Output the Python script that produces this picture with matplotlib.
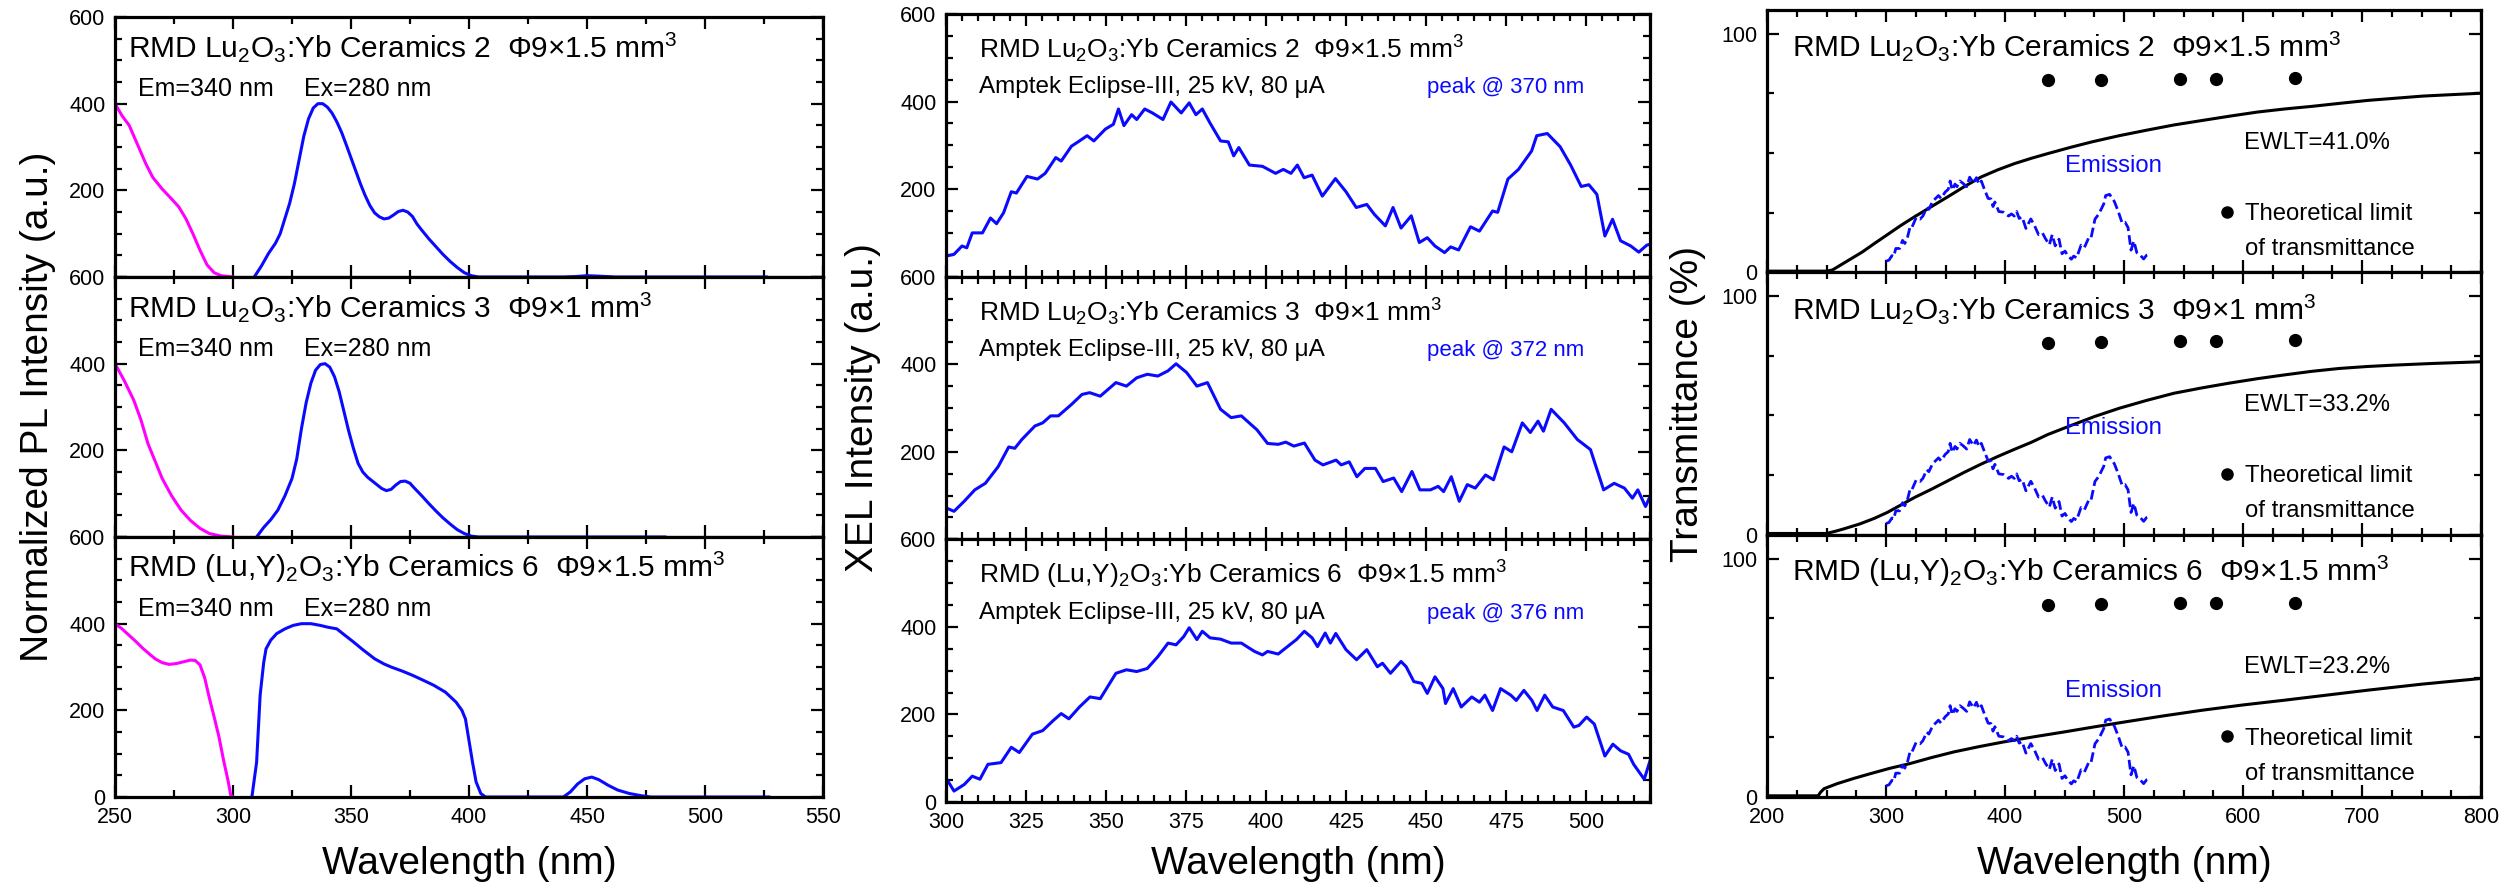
import numpy as np
import matplotlib
matplotlib.use("Agg")
import matplotlib.pyplot as plt
from matplotlib.ticker import MultipleLocator

plt.rcParams['font.family'] = ['Liberation Sans', 'DejaVu Sans']
plt.rcParams['mathtext.fontset'] = 'custom'
plt.rcParams['mathtext.rm'] = 'Liberation Sans'
plt.rcParams['mathtext.default'] = 'regular'

# ---------------- sample titles ----------------
titles = [
    "RMD Lu$_2$O$_3$:Yb Ceramics 2  Φ9×1.5 mm$^3$",
    "RMD Lu$_2$O$_3$:Yb Ceramics 3  Φ9×1 mm$^3$",
    "RMD (Lu,Y)$_2$O$_3$:Yb Ceramics 6  Φ9×1.5 mm$^3$",
]
xel_peaks = ["peak @ 370 nm", "peak @ 372 nm", "peak @ 376 nm"]
ewlt_labels = ["EWLT=41.0%", "EWLT=33.2%", "EWLT=23.2%"]

# ---------------- photoluminescence (excitation: Em=340 nm, emission: Ex=280 nm) ----------------
pl_exc_wl_c2 = [250, 253, 256, 260, 263, 266, 270, 274, 277, 280, 283, 286, 289, 292, 295, 300]
pl_exc_c2 = [400, 372, 350, 300, 262, 230, 203, 180, 162, 135, 100, 62, 28, 10, 3, 0]
pl_em_wl_c2 = [309, 312, 315, 318, 320, 322, 324, 326, 328, 330, 332, 334, 336, 338, 340, 342, 344,
               346, 348, 350, 352, 354, 356, 358, 360, 362, 364, 366, 368, 370, 372, 374, 376, 378,
               380, 383, 386, 389, 392, 395, 398, 401, 404, 440, 445, 450, 455, 462, 526]
pl_em_c2 = [0, 25, 54, 78, 100, 135, 170, 215, 270, 325, 365, 390, 400, 400, 392, 378, 358,
            334, 305, 275, 245, 215, 188, 165, 148, 139, 134, 136, 143, 151, 154, 150, 140, 122,
            108, 88, 70, 52, 36, 22, 10, 3, 0, 0, 1, 3, 2, 0, 0]

pl_exc_wl_c3 = [250, 254, 258, 261, 264, 267, 270, 274, 278, 282, 286, 290, 295, 300]
pl_exc_c3 = [400, 360, 315, 270, 215, 175, 135, 95, 62, 38, 20, 8, 2, 0]
pl_em_wl_c3 = [310, 313, 316, 319, 322, 325, 327, 329, 331, 333, 335, 337, 339, 341, 343, 345, 347,
               349, 351, 353, 355, 357, 360, 363, 365, 367, 369, 371, 373, 375, 377, 380, 383, 386,
               389, 392, 395, 398, 401, 404, 483]
pl_em_c3 = [0, 22, 40, 62, 95, 135, 180, 250, 310, 355, 385, 398, 400, 392, 370, 335, 290,
            245, 205, 170, 150, 138, 125, 112, 107, 110, 120, 128, 129, 124, 112, 95, 77, 60,
            44, 30, 17, 8, 2, 0, 0]

pl_exc_wl_c6 = [250, 253, 256, 259, 262, 265, 267, 270, 273, 276, 279, 282, 284, 286, 288, 290,
                292, 294, 296, 298, 299, 300]
pl_exc_c6 = [400, 388, 373, 358, 342, 328, 319, 310, 306, 308, 312, 316, 315, 305, 275, 228,
             185, 140, 85, 35, 5, 0]
pl_em_wl_c6 = [308, 310, 311.5, 313, 314, 316, 318.5, 322, 325.5, 329, 333, 337, 340, 344, 347,
               351, 355, 360, 364, 367, 372, 376, 380, 385, 390, 394.5, 397, 398.5, 400, 401.5,
               403, 405, 407, 440, 443, 446, 449, 452, 455, 459, 463, 468, 473, 477, 527]
pl_em_c6 = [0, 80, 235, 310, 342, 362, 377, 388, 396, 400, 400, 396, 392, 388, 375,
            358, 340, 319, 307, 300, 290, 281, 271, 258, 242, 219, 200, 180, 130, 80,
            35, 8, 0, 0, 12, 30, 42, 46, 40, 27, 16, 8, 3, 0, 0]

# ---------------- X-ray excited luminescence ----------------
xel_wl_c2 = [300, 302.5, 305, 306.5, 308.2, 311.4, 313.9, 315.8, 318, 320.4, 322, 325.3, 328.6, 331,
             334.3, 336, 339.2, 341.7, 344.1, 346.2, 349.8, 352.3, 353.9, 355.6, 358, 359.6, 362.1,
             364.5, 367.8, 370.3, 373.5, 376, 378.1, 380.1, 382.5, 385.8, 388.2, 389.9, 391.5,
             394.8, 398.9, 403, 405.4, 407.8, 409.8, 411.9, 414.4, 417.6, 421.7, 425, 428.2, 431.5,
             433.9, 437.3, 439.7, 442.2, 445.4, 447.9, 450.4, 452.8, 455.8, 457.7, 460.2, 463.9,
             466.7, 470.8, 472.4, 475.6, 478.9, 483, 484.6, 487.9, 491.9, 495.2, 498.5, 500.9,
             503.4, 505.9, 508.3, 510.8, 514, 516.5, 519, 520]
xel_c2 = [47, 51, 70, 66, 100, 100, 134, 121, 146, 194, 191, 229, 223, 236,
          272, 264, 298, 310, 322, 310, 337, 348, 383, 345, 370, 359, 383,
          374, 359, 399, 374, 397, 370, 383, 351, 310, 308, 276, 295,
          255, 252, 236, 245, 236, 255, 226, 232, 184, 224, 194, 158, 165,
          142, 116, 158, 111, 139, 78, 89, 70, 55, 68, 61, 114,
          104, 150, 147, 223, 245, 287, 322, 327, 297, 255, 206, 210,
          188, 93, 131, 82, 70, 56, 72, 74]

xel_wl_c3 = [300, 302.5, 305.7, 309, 312.3, 316.3, 319.6, 321.5, 323.7, 327.8, 330.2, 332.7, 335.1,
             339.2, 342.5, 344.9, 348.2, 353.1, 356.4, 359.6, 362.9, 366.2, 369.4, 371.9, 375.2,
             378.4, 381.7, 385.8, 389.1, 392.3, 397.2, 400.5, 403.8, 406.2, 408.7, 412, 415.3,
             417.8, 421.9, 423.5, 426, 428.4, 430.9, 434.2, 436.6, 439.9, 442.4, 445.6, 448.1,
             451.4, 453.8, 455.5, 457.9, 460.4, 462.9, 465.4, 468.6, 471.1, 474.4, 476.8, 480.1,
             482.6, 485, 486.7, 489.1, 493.2, 497.3, 501.4, 505.5, 508.8, 512, 514.5, 516.2,
             518.6, 520]
xel_c3 = [72, 64, 87, 113, 128, 166, 211, 208, 228, 259, 266, 282, 282,
          308, 331, 335, 327, 358, 350, 369, 377, 373, 385, 401, 381,
          350, 358, 297, 278, 282, 250, 219, 217, 222, 213, 220, 181,
          170, 181, 170, 177, 143, 162, 162, 132, 140, 109, 155, 113,
          113, 121, 109, 143, 87, 125, 117, 147, 136, 211, 200, 266,
          244, 270, 247, 297, 266, 228, 205, 113, 128, 117, 94, 113,
          75, 98]

xel_wl_c6 = [300, 302.5, 305.7, 308.2, 310.6, 313.1, 317.2, 320.4, 322.9, 327, 330.2, 333.5, 336,
             338.4, 341.7, 345, 348.2, 353.1, 356.4, 359.6, 362.9, 366.2, 369.4, 371.9, 374.3, 376,
             378.4, 380.1, 382.5, 385.8, 389.1, 392.3, 396.4, 398.9, 400.5, 403.8, 406.2, 409.5,
             412, 414.4, 416.1, 418.5, 420.1, 421.8, 425, 428.3, 431.5, 434.8, 436.4, 438.9,
             442.2, 443.8, 446.2, 448.7, 450.4, 452.8, 455.3, 456.1, 458.5, 461, 464.3, 466.7,
             468.4, 470.8, 473.3, 476.5, 478.2, 480.6, 483.1, 484.7, 487.1, 489.6, 492.9, 496.2,
             497.8, 500.2, 502.6, 505.9, 508.4, 510.8, 513.3, 514.9, 518.2, 520]
xel_c6 = [55, 25, 40, 59, 52, 86, 90, 125, 113, 155, 163, 186, 202,
          190, 217, 240, 236, 294, 302, 298, 305, 332, 363, 359, 378, 398,
          371, 390, 375, 372, 363, 363, 344, 336, 344, 338, 352, 371,
          390, 375, 355, 386, 363, 385, 348, 325, 348, 309, 317, 294,
          321, 309, 275, 271, 248, 286, 259, 225, 259, 217, 240, 228,
          244, 209, 259, 244, 232, 255, 232, 209, 244, 217, 209, 171,
          175, 194, 178, 105, 132, 117, 109, 86, 52, 94]

# ---------------- transmittance ----------------
tr_wl_c2 = [200, 250, 255, 260, 270, 280, 290, 300, 312, 324, 338, 352, 366, 380, 394, 408, 422,
            436, 455, 473, 496, 519, 542, 566, 589, 612, 635, 658, 682, 705, 728, 751, 775, 800]
tr_c2 = [0.5, 0.5, 1.0, 2.5, 5.5, 8.5, 12, 15.4, 19.5, 23.3, 27.5, 31.7, 36, 40, 43, 45.6, 47.8,
         49.8, 52.4, 54.7, 57.3, 59.6, 61.8, 63.7, 65.5, 67.2, 68.5, 69.6, 70.9, 72.1, 73, 73.9,
         74.5, 75.1]
tr_wl_c3 = [200, 250, 258, 265, 278, 290, 301, 312, 324, 338, 352, 366, 380, 394, 408, 422, 436,
            454, 475, 496, 519, 542, 565, 588, 612, 635, 658, 681, 704, 727, 760, 800]
tr_c3 = [0.5, 0.5, 1.5, 2.5, 4.5, 6.8, 9.3, 12.3, 15.6, 19, 22.6, 26.2, 29.6, 32.8, 35.8, 38.7,
         42, 45.5, 49.5, 53, 56.3, 59.3, 61.5, 63.5, 65.4, 67, 68.5, 69.7, 70.5, 71.1, 71.8, 72.5]
tr_wl_c6 = [200, 243, 245, 248, 259, 273, 287, 303, 320, 338, 357, 378, 399, 425, 450, 475, 501,
            533, 566, 600, 635, 670, 705, 750, 800]
tr_c6 = [0.5, 0.5, 2.0, 3.5, 5.6, 7.8, 9.8, 12, 14, 16.5, 18.9, 21.1, 23.1, 25.3, 27.3, 29.4,
         31.5, 34, 36.4, 38.6, 40.6, 42.7, 44.8, 47.3, 49.7]

# theoretical limit of transmittance
limit_wl = [436, 481, 547, 577, 644]
limit_T = [80.5, 80.8, 81.2, 81.2, 81.5]

# XEL spectrum of Ceramics 2 shown as the emission overlay (scaled to % axis)
EMISSION_SCALE = 0.1

BLUE = '#0a0aff'
MAGENTA = '#ff00ff'

W, H = 2514, 886
fig = plt.figure(figsize=(W / 100, H / 100), dpi=100)


def column_axes(x0, x1, top, bottom):
    h = (bottom - top) / 3.0
    axes = []
    for i in range(3):
        y_top = top + i * h
        axes.append(fig.add_axes([x0 / W, 1 - (y_top + h) / H, (x1 - x0) / W, h / H]))
    return axes


def frame(ax):
    for s in ax.spines.values():
        s.set_linewidth(2.3)
    ax.tick_params(which='both', direction='in', top=True, right=True, width=1.6,
                   labelsize=15.5, pad=7)
    ax.tick_params(which='major', length=8.5)
    ax.tick_params(which='minor', length=4.8)


LS = 28     # axis label size

# ---------------- left column: PL ----------------
pl_axes = column_axes(115, 823, 17, 797)
pl_sets = [(pl_exc_wl_c2, pl_exc_c2, pl_em_wl_c2, pl_em_c2),
           (pl_exc_wl_c3, pl_exc_c3, pl_em_wl_c3, pl_em_c3),
           (pl_exc_wl_c6, pl_exc_c6, pl_em_wl_c6, pl_em_c6)]
for i, (ax, (xw, xv, ew, ev)) in enumerate(zip(pl_axes, pl_sets)):
    ax.plot(xw, xv, color=MAGENTA, lw=2.2)
    ax.plot(ew, ev, color=BLUE, lw=2.2)
    ax.set_xlim(250, 550)
    ax.set_ylim(0, 600)
    ax.xaxis.set_major_locator(MultipleLocator(50))
    ax.xaxis.set_minor_locator(MultipleLocator(25))
    ax.set_yticks([0, 200, 400, 600])
    ax.yaxis.set_minor_locator(MultipleLocator(50))
    if i < 2:
        ax.set_yticklabels(['', '200', '400', '600'])
        ax.tick_params(labelbottom=False)
    frame(ax)
    ax.text(255.3, 508, titles[i], fontsize=21.5, va='baseline', ha='left')
    ax.text(259.9, 418, "Em=340 nm", fontsize=18, va='baseline', ha='left')
    ax.text(330.1, 418, "Ex=280 nm", fontsize=18, va='baseline', ha='left')

# ---------------- middle column: XEL ----------------
xel_axes = column_axes(946, 1650, 14, 802)
xel_sets = [(xel_wl_c2, xel_c2), (xel_wl_c3, xel_c3), (xel_wl_c6, xel_c6)]
for i, (ax, (xw, xv)) in enumerate(zip(xel_axes, xel_sets)):
    ax.plot(xw, xv, color=BLUE, lw=2.2)
    ax.set_xlim(300, 520)
    ax.set_ylim(0, 600)
    ax.xaxis.set_major_locator(MultipleLocator(25))
    ax.xaxis.set_minor_locator(MultipleLocator(5))
    ax.set_yticks([0, 200, 400, 600])
    ax.yaxis.set_minor_locator(MultipleLocator(50))
    if i < 2:
        ax.set_yticklabels(['', '200', '400', '600'])
        ax.tick_params(labelbottom=False)
    frame(ax)
    ax.text(310.3, 498, titles[i], fontsize=19, va='baseline', ha='left')
    ax.text(310.3, 419, "Amptek Eclipse-III, 25 kV, 80 μA", fontsize=17.5,
            va='baseline', ha='left')
    ax.text(450.3, 419, xel_peaks[i], fontsize=16, va='baseline', ha='left', color=BLUE)

# ---------------- right column: transmittance ----------------
tr_axes = column_axes(1767, 2481, 10, 797)
tr_sets = [(tr_wl_c2, tr_c2), (tr_wl_c3, tr_c3), (tr_wl_c6, tr_c6)]
emission = np.asarray(xel_c2) * EMISSION_SCALE
for i, (ax, (tw, tv)) in enumerate(zip(tr_axes, tr_sets)):
    ax.plot(tw, tv, color='black', lw=2.2)
    ax.plot(xel_wl_c2, emission, color=BLUE, lw=2.0, ls=(0, (3.5, 1.5)))
    ax.plot(limit_wl, limit_T, 'o', color='black', ms=8.5)
    ax.set_xlim(200, 800)
    ax.set_ylim(0, 110)
    ax.xaxis.set_major_locator(MultipleLocator(100))
    ax.xaxis.set_minor_locator(MultipleLocator(25))
    ax.set_yticks([0, 100])
    ax.set_yticks([25, 50, 75], minor=True)
    if i < 2:
        ax.tick_params(labelbottom=False)
    frame(ax)
    ax.text(221.3, 90.5, titles[i], fontsize=21.5, va='baseline', ha='left')
    ax.text(600.5, 51.9, ewlt_labels[i], fontsize=17.2, va='baseline', ha='left')
    ax.text(450.6, 42.1, "Emission", fontsize=17.2, va='baseline', ha='left', color=BLUE)
    ax.plot([586.5], [25.4], 'o', color='black', ms=8)
    ax.text(601.9, 21.9, "Theoretical limit", fontsize=17.2, va='baseline', ha='left')
    ax.text(601.9, 7.3, "of transmittance", fontsize=17.2, va='baseline', ha='left')

# ---------------- axis labels ----------------
fig.text(38 / W, 1 - 407 / H, "Normalized PL Intensity (a.u.)", rotation=90,
         fontsize=LS, ha='center', va='center')
fig.text(863 / W, 1 - 408 / H, "XEL Intensity (a.u.)", rotation=90,
         fontsize=LS, ha='center', va='center')
fig.text(1688 / W, 1 - 404 / H, "Transmittance (%)", rotation=90,
         fontsize=LS, ha='center', va='center')
for xc in (469, 1298, 2124):
    fig.text(xc / W, 1 - 864 / H, "Wavelength (nm)", fontsize=LS, ha='center', va='center')

fig.savefig("out.png", dpi=100)
